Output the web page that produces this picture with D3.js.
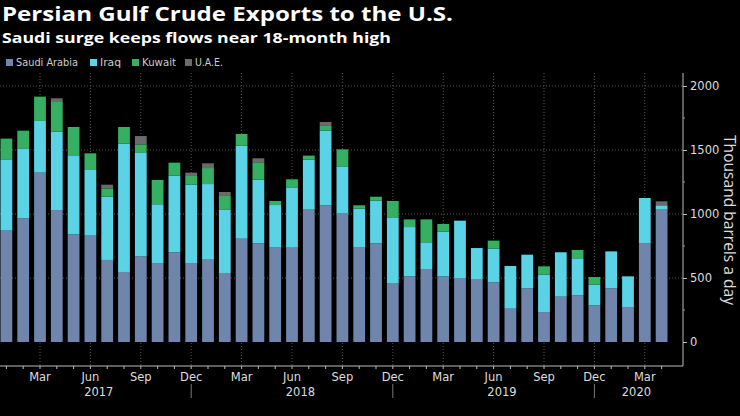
<!DOCTYPE html>
<html>
<head>
<meta charset="utf-8">
<script src="https://cdn.jsdelivr.net/npm/d3@7"></script>
<style>
  body { margin: 0; background: #000; }
  svg { display: block; font-family: "Open Sans", sans-serif; }
  .small { font-family: "DejaVu Sans", sans-serif; }
</style>
</head>
<body>
<svg id="chart" width="740" height="416"></svg>
<script>
// monthly, Jan 2017 - Apr 2020 (thousand barrels a day)
const months = d3.timeMonth.range(new Date(2017, 0, 1), new Date(2020, 4, 1));
const saudi = [870, 966, 1323, 1031, 841, 836, 641, 547, 669, 617, 701, 617,
  643, 539, 807, 771, 742, 737, 1034, 1068, 1003, 742, 771, 456,
  513, 570, 513, 500, 487, 466, 260, 419, 234, 354, 365, 286,
  419, 273, 773, 1034];
const iraq = [557, 547, 404, 612, 612, 508, 494, 1002, 808, 459, 598, 612,
  591, 497, 727, 497, 328, 471, 390, 583, 369, 300, 333, 518,
  385, 209, 349, 448, 247, 263, 334, 263, 292, 347, 289, 162,
  289, 240, 352, 34];
const kuwait = [162, 138, 190, 232, 227, 130, 65, 131, 67, 190, 102, 68,
  125, 105, 91, 136, 32, 63, 32, 37, 133, 26, 31, 128,
  60, 179, 60, 0, 0, 63, 0, 0, 65, 0, 65, 60,
  0, 0, 0, 0];
const uae = [0, 0, 0, 29, 0, 0, 29, 0, 65, 0, 0, 26,
  37, 31, 0, 31, 0, 0, 0, 31, 0, 0, 0, 0,
  0, 0, 0, 0, 0, 0, 0, 0, 0, 0, 0, 0,
  0, 0, 0, 31];

const seriesKeys = ["saudi", "iraq", "kuwait", "uae"];
const seriesNames = ["Saudi Arabia", "Iraq", "Kuwait", "U.A.E."];
const seriesColors = ["#7085ab", "#5ad3e6", "#35b062", "#6b6b6b"];
const monthLabels = { 2: "Mar", 5: "Jun", 8: "Sep", 11: "Dec" };
const years = ["2017", "2018", "2019", "2020"];
const yTicks = [0, 500, 1000, 1500, 2000];

const table = months.map((m, i) => ({
  month: m, saudi: saudi[i], iraq: iraq[i], kuwait: kuwait[i], uae: uae[i]
}));

const svg = d3.select("#chart");
const axisRight = 683, axisBottom = 366, plotTop = 73;

const x = d3.scaleBand()
  .domain(months)
  .range([-2, 670])
  .paddingInner(0.3)
  .paddingOuter(0.15);
const y = d3.scaleLinear().domain([0, 2000]).range([342, 86]);
const color = d3.scaleOrdinal().domain(seriesKeys).range(seriesColors);
const cx = (m) => x(m) + x.bandwidth() / 2;

// TITLES
svg.append("text").attr("x", 2).attr("y", 21)
  .attr("fill", "#fff").attr("font-weight", 700).attr("font-size", 20)
  .attr("textLength", 451).attr("lengthAdjust", "spacingAndGlyphs")
  .text("Persian Gulf Crude Exports to the U.S.");
svg.append("text").attr("x", 2).attr("y", 42.5)
  .attr("fill", "#fff").attr("font-weight", 700).attr("font-size", 15)
  .attr("textLength", 389).attr("lengthAdjust", "spacingAndGlyphs")
  .text("Saudi surge keeps flows near 18-month high");

// LEGEND
const legendX = [6, 90, 132, 185];
const legendW = [62, 21, 34, 28];
const legend = svg.append("g").attr("class", "small");
seriesKeys.forEach((k, i) => {
  legend.append("rect").attr("x", legendX[i]).attr("y", 59)
    .attr("width", 7).attr("height", 7).attr("fill", color(k));
  legend.append("text").attr("x", legendX[i] + 10).attr("y", 66)
    .attr("fill", "#ccc").attr("font-size", 10.5)
    .attr("textLength", legendW[i]).attr("lengthAdjust", "spacingAndGlyphs")
    .text(seriesNames[i]);
});

// GRID
const grid = svg.append("g").attr("stroke", "#555")
  .attr("stroke-dasharray", "1,2").attr("stroke-width", 1);
yTicks.filter((d) => d > 0).forEach((d) => {
  grid.append("line").attr("x1", 0).attr("x2", axisRight)
    .attr("y1", y(d)).attr("y2", y(d));
});
months.forEach((m) => {
  if (monthLabels[m.getMonth()]) {
    grid.append("line").attr("x1", cx(m)).attr("x2", cx(m))
      .attr("y1", plotTop).attr("y2", axisBottom);
  }
});

// BARS
const stacked = d3.stack().keys(seriesKeys)(table);
svg.append("g").selectAll("g").data(stacked).join("g")
  .attr("fill", (d) => color(d.key))
  .selectAll("rect").data((d) => d).join("rect")
  .attr("x", (d) => x(d.data.month))
  .attr("width", x.bandwidth())
  .attr("y", (d) => y(d[1]))
  .attr("height", (d) => y(d[0]) - y(d[1]));

// X AXIS
const xAxis = svg.append("g").attr("stroke", "#bbb");
xAxis.append("line").attr("x1", 0).attr("x2", axisRight)
  .attr("y1", axisBottom).attr("y2", axisBottom);
months.forEach((m) => {
  xAxis.append("line").attr("x1", cx(m)).attr("x2", cx(m))
    .attr("y1", axisBottom).attr("y2", axisBottom + 3);
});
const xLabels = svg.append("g").attr("class", "small").attr("fill", "#ddd")
  .attr("font-size", 11.5).attr("text-anchor", "middle");
months.forEach((m) => {
  const lab = monthLabels[m.getMonth()];
  if (lab) xLabels.append("text").attr("x", cx(m)).attr("y", 381).text(lab);
  if (m.getMonth() === 11) {
    svg.append("line").attr("x1", cx(m)).attr("x2", cx(m))
      .attr("y1", 384).attr("y2", 398).attr("stroke", "#777");
  }
});
years.forEach((yr) => {
  const ms = months.filter((m) => m.getFullYear() === +yr);
  const mid = (cx(ms[0]) + cx(ms[ms.length - 1])) / 2;
  xLabels.append("text").attr("x", mid).attr("y", 396).text(yr);
});

// Y AXIS
const yAxis = svg.append("g")
  .attr("transform", `translate(${axisRight},0)`)
  .call(d3.axisRight(y).tickValues(yTicks).tickSize(4).tickPadding(3)
    .tickFormat(d3.format("d")));
yAxis.select(".domain").remove();
yAxis.selectAll("line").attr("stroke", "#bbb");
yAxis.selectAll("text").attr("fill", "#ddd").attr("font-size", 11.5)
  .attr("font-family", "DejaVu Sans, sans-serif");
svg.append("line").attr("x1", axisRight).attr("x2", axisRight)
  .attr("y1", plotTop).attr("y2", axisBottom).attr("stroke", "#bbb");
[250, 750, 1250, 1750].forEach((d) => {
  svg.append("line").attr("x1", axisRight).attr("x2", axisRight + 2)
    .attr("y1", y(d)).attr("y2", y(d)).attr("stroke", "#999");
});

svg.append("text")
  .attr("transform", "translate(724,220) rotate(90)")
  .attr("text-anchor", "middle").attr("fill", "#ddd").attr("font-size", 15.5)
  .attr("textLength", 170).attr("lengthAdjust", "spacingAndGlyphs")
  .text("Thousand barrels a day");
</script>
</body>
</html>
